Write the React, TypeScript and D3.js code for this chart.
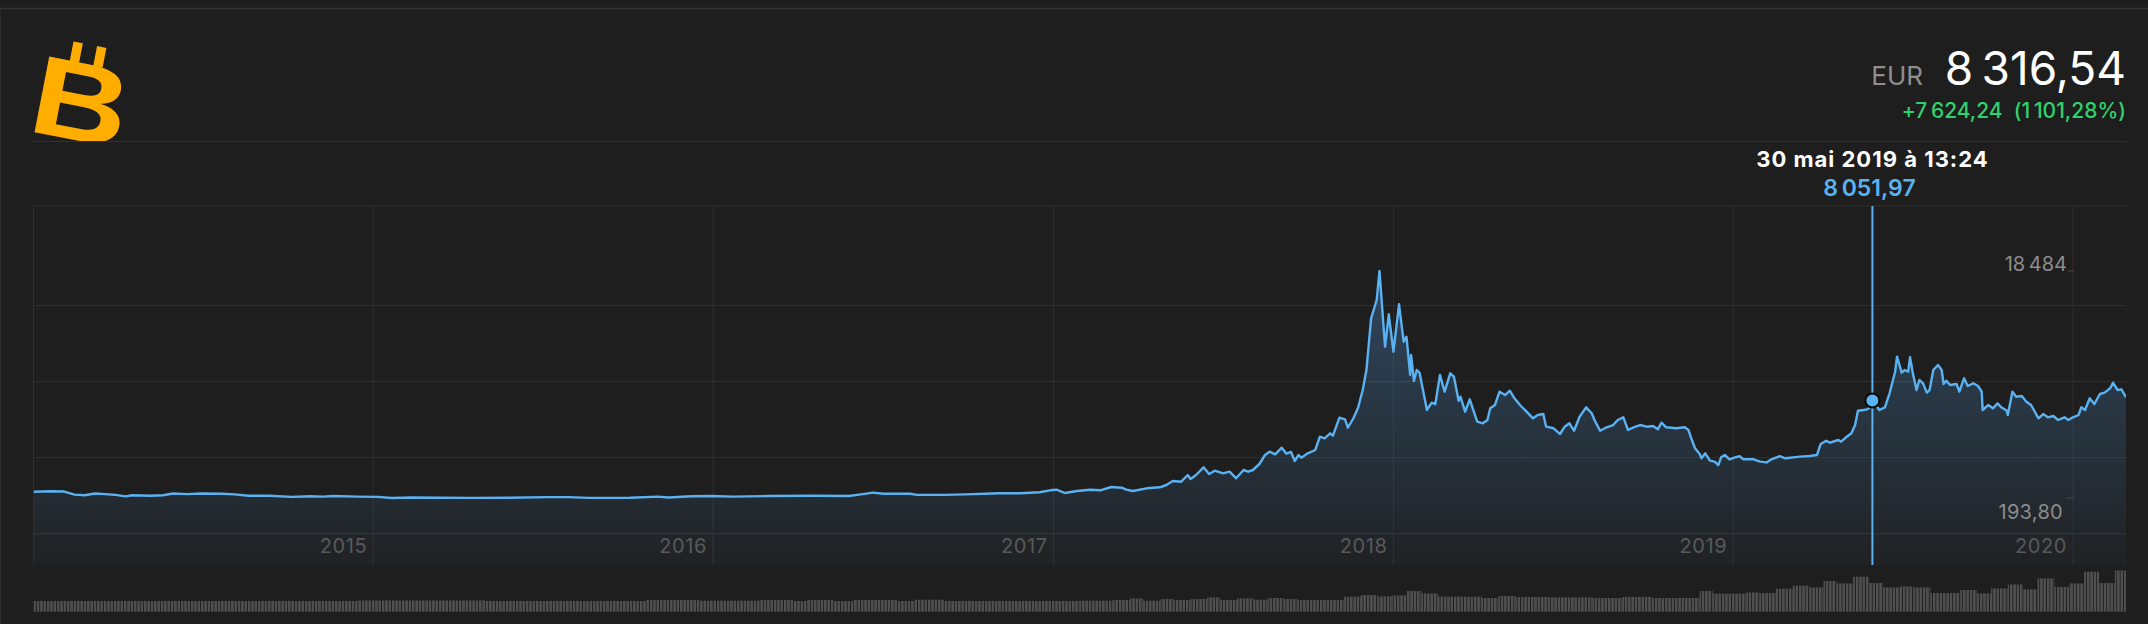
import React from "react";
import * as d3 from "d3";

// ---------- DATA ----------
const currency = "EUR";
const cursorDate = "2019-05-30T13:24";

const priceDates = [
  "2014-01-01","2014-01-19","2014-02-03","2014-02-14","2014-02-25","2014-03-08","2014-03-19","2014-03-30",
  "2014-04-10","2014-04-17","2014-05-06","2014-05-20","2014-05-31","2014-06-15","2014-06-30","2014-07-22",
  "2014-08-05","2014-08-20","2014-09-11","2014-10-06","2014-10-25","2014-11-08","2014-11-19","2014-12-15",
  "2015-01-06","2015-01-21","2015-02-12","2015-03-13","2015-04-19","2015-05-25","2015-07-08","2015-07-30",
  "2015-08-21","2015-10-04","2015-11-03","2015-11-14","2015-12-09","2015-12-31","2016-01-22","2016-02-28",
  "2016-04-19","2016-05-26","2016-06-06","2016-06-21","2016-07-02","2016-07-31","2016-08-07","2016-09-06",
  "2016-09-28","2016-10-27","2016-11-04","2016-11-26","2016-12-17","2016-12-28","2017-01-04","2017-01-13",
  "2017-01-26","2017-02-09","2017-02-20","2017-03-04","2017-03-15","2017-03-20","2017-03-27","2017-04-11",
  "2017-04-25","2017-05-02","2017-05-09","2017-05-18","2017-05-25","2017-05-28","2017-06-03","2017-06-11",
  "2017-06-17","2017-06-23","2017-07-02","2017-07-09","2017-07-16","2017-07-24","2017-07-29","2017-08-03",
  "2017-08-10","2017-08-16","2017-08-21","2017-08-27","2017-09-03","2017-09-08","2017-09-13","2017-09-17",
  "2017-09-21","2017-09-24","2017-10-01","2017-10-09","2017-10-14","2017-10-19","2017-10-25","2017-10-28",
  "2017-11-04","2017-11-10","2017-11-13","2017-11-19","2017-11-24","2017-11-29","2017-12-03","2017-12-08",
  "2017-12-14","2017-12-17","2017-12-23","2017-12-27","2018-01-01","2018-01-07","2018-01-12","2018-01-15",
  "2018-01-19","2018-01-20","2018-01-23","2018-01-26","2018-01-29","2018-02-06","2018-02-11","2018-02-15",
  "2018-02-20","2018-02-25","2018-03-03","2018-03-07","2018-03-12","2018-03-14","2018-03-19","2018-03-24",
  "2018-03-28","2018-04-01","2018-04-07","2018-04-12","2018-04-15","2018-04-20","2018-04-25","2018-05-01",
  "2018-05-06","2018-05-11","2018-05-17","2018-05-24","2018-05-31","2018-06-05","2018-06-11","2018-06-14",
  "2018-06-22","2018-06-29","2018-07-04","2018-07-09","2018-07-14","2018-07-20","2018-07-27","2018-08-02",
  "2018-08-05","2018-08-11","2018-08-18","2018-08-25","2018-08-30","2018-09-05","2018-09-10","2018-09-16",
  "2018-09-23","2018-09-30","2018-10-07","2018-10-12","2018-10-16","2018-10-21","2018-11-01","2018-11-10",
  "2018-11-14","2018-11-17","2018-11-21","2018-11-26","2018-11-28","2018-12-02","2018-12-07","2018-12-12",
  "2018-12-16","2018-12-19","2018-12-23","2018-12-28","2019-01-03","2019-01-08","2019-01-12","2019-01-23",
  "2019-01-30","2019-02-06","2019-02-11","2019-02-20","2019-02-26","2019-03-14","2019-03-24","2019-04-01",
  "2019-04-05","2019-04-11","2019-04-15","2019-04-24","2019-04-27","2019-05-03","2019-05-08","2019-05-12",
  "2019-05-15","2019-05-21","2019-05-25","2019-05-28","2019-05-30T13:24","2019-06-07","2019-06-13","2019-06-18",
  "2019-06-24","2019-06-26","2019-07-01","2019-07-04","2019-07-08","2019-07-10","2019-07-13","2019-07-17",
  "2019-07-20","2019-07-24","2019-07-28","2019-07-31","2019-08-04","2019-08-09","2019-08-13","2019-08-15",
  "2019-08-18","2019-08-22","2019-08-29","2019-09-01","2019-09-06","2019-09-10","2019-09-16","2019-09-21",
  "2019-09-25","2019-09-26","2019-10-02","2019-10-07","2019-10-12","2019-10-16","2019-10-22","2019-10-23",
  "2019-10-28","2019-11-01","2019-11-07","2019-11-12","2019-11-17","2019-11-25","2019-11-30","2019-12-05",
  "2019-12-11","2019-12-16","2019-12-23","2019-12-27","2020-01-01","2020-01-07","2020-01-10","2020-01-14",
  "2020-01-19","2020-01-24","2020-01-30","2020-02-04","2020-02-10","2020-02-13","2020-02-18","2020-02-22",
  "2020-02-27"
];

const priceValues = [
  692.304,736,714,465,420,555,510,442,
  329,420,375,420,555,510,555,533,
  487,375,375,284,329,307,352,307,
  284,193.8,239,216,205,208,262,262,
  200,216,307,239,329,352,307,352,
  375,352,465,623,533,533,442,442,
  487,555,572,575,653,814,863,597,
  758,863,814,1080,1024,863,758,975,
  1056,1241,1563,1507,2047,1725,2047,2667,
  2127,2393,2183,2313,1780,2450,2313,2450,
  2933,3658,3925,3715,4247,3763,3900,3175,
  3658,3440,3795,4061,5133,5004,5407,5220,
  6664,6528,5858,6620,7470,8895,10506,14672,
  16147,18484,12383,14994,11980,15800,12787,13190,
  10104,11715,9620,10506,10300,7284,7872,7767,
  10104,8758,10238,9970,8033,8355,7147,8146,
  7227,6341,6212,6478,7420,7686,8758,8492,
  8840,8227,7686,7147,6615,6881,6960,5939,
  5810,5350,5939,6212,5616,6745,7500,7018,
  6478,5616,5890,6075,6478,6696,5672,5890,
  6075,5939,6000,5729,6260,5890,5810,5890,
  5672,5004,4199,3739,3393,3795,3200,3128,
  2853,3473,3658,3312,3473,3560,3312,3312,
  3128,3060,3312,3560,3393,3525,3578,3658,
  4545,4810,4649,4867,4730,5133,5407,6075,
  7227,7284,7340,7500,8051.97,7284,7500,8630,
  10372,11580,10291,10506,10372,11530,10238,8895,
  9701,9433,8680,8895,10506,10909,10506,9379,
  9647,9298,9379,8758,9836,9218,9433,9218,
  8758,7284,7686,7420,7822,7500,7227,6881,
  8758,8355,8410,7953,7686,6615,6960,6696,
  6800,6478,6696,6478,6696,6881,7500,7284,
  8227,7767,8574,8680,9031,9486,8895,8950,
  8316.54
];

// Volume: start date of each run of equal-height volume bars, and its relative volume
const volumeDates = [
  "2014-01-01","2014-12-15","2015-05-01","2015-10-21","2015-12-18","2016-02-20","2016-03-27","2016-04-11",
  "2016-05-10","2016-05-31","2016-07-17","2016-08-04","2016-09-05","2017-01-29","2017-03-06","2017-03-24",
  "2017-04-07","2017-04-26","2017-05-10","2017-05-28","2017-06-15","2017-06-29","2017-07-17","2017-08-04",
  "2017-08-19","2017-09-05","2017-09-20","2017-11-09","2017-11-27","2017-12-15","2017-12-30","2018-01-15",
  "2018-01-31","2018-02-18","2018-04-06","2018-04-24","2018-05-12","2018-06-17","2018-08-03","2018-09-04",
  "2018-10-06","2018-11-26","2018-12-10","2019-01-15","2019-01-29","2019-02-16","2019-03-06","2019-03-24",
  "2019-04-08","2019-04-22","2019-05-10","2019-05-27","2019-06-11","2019-06-29","2019-07-14","2019-08-01",
  "2019-09-02","2019-09-20","2019-10-05","2019-10-23","2019-11-08","2019-11-24","2019-12-12","2019-12-28",
  "2020-01-13","2020-01-29","2020-02-15"
];
const volumeValues = [
  10.7,11.3,10.7,11.7,11,11.7,10.7,11.7,
  10.7,11.7,10.7,12,10.7,11,11.7,13.3,
  11,12.7,11.7,12.7,14.3,11.7,13.3,12,
  13.7,12.7,11.7,15,16.7,15.3,16.3,20.7,
  18.3,15,13.7,15.7,14.7,14.3,13.7,14.7,
  13.7,20.7,18,19.3,18.7,23,26,24.3,
  30.7,28.3,35,28.7,24.3,25.3,24.3,18.7,
  21.7,18.3,23.3,27.3,22.3,33.3,24.7,28.3,
  40,28.7,41.3
];

// ---------- LAYOUT ----------
const W = 2148;
const H = 624;
const PLOT_LEFT = 33.5;
const PLOT_RIGHT = 2126;
const PLOT_TOP = 206;
const PLOT_BOTTOM = 565;
const VALUE_TOP = 271;
const VALUE_BOTTOM = 498;
const GRID_STEP = 76;
const GRID_COUNT = 4;
const VOL_BOTTOM = 611.7;
const VOL_MAX_H = 41.3;
const LABEL_RIGHT = 2066;
const TICK_RIGHT = 2074.5;
const FONT = "Inter, 'Noto Sans', 'DejaVu Sans', sans-serif";

const fr = d3.formatLocale({ decimal: ",", thousands: "\u202f", grouping: [3], currency: ["", "\u00a0€"] });
const frTime = d3.timeFormatLocale({
  dateTime: "%A %e %B %Y à %X",
  date: "%d/%m/%Y",
  time: "%H:%M:%S",
  periods: ["AM", "PM"],
  days: ["dimanche", "lundi", "mardi", "mercredi", "jeudi", "vendredi", "samedi"],
  shortDays: ["dim.", "lun.", "mar.", "mer.", "jeu.", "ven.", "sam."],
  months: ["janvier", "février", "mars", "avril", "mai", "juin", "juillet", "août", "septembre", "octobre", "novembre", "décembre"],
  shortMonths: ["janv.", "févr.", "mars", "avr.", "mai", "juin", "juil.", "août", "sept.", "oct.", "nov.", "déc."],
});
const fmtPrice = (v: number) => (v >= 10000 ? fr.format(",.0f")(v) : fr.format(",.2f")(v));

export default function App() {
  const data = priceDates.map((d, i) => ({ date: d3.isoParse(d) as Date, value: priceValues[i] }));
  const [d0, d1] = d3.extent(data, (d) => d.date) as [Date, Date];
  const x = d3.scaleTime().domain([d0, d1]).range([PLOT_LEFT, PLOT_RIGHT]);
  const minV = d3.min(priceValues) as number;
  const maxV = d3.max(priceValues) as number;
  const y = d3.scaleLinear().domain([minV, maxV]).range([VALUE_BOTTOM, VALUE_TOP]);

  const line = d3.line<{ date: Date; value: number }>().x((d) => x(d.date)).y((d) => y(d.value));
  const area = d3
    .area<{ date: Date; value: number }>()
    .x((d) => x(d.date))
    .y0(PLOT_BOTTOM)
    .y1((d) => y(d.value));

  const years = x.ticks(d3.timeYear.every(1)).filter((t) => +t > +d0);

  const vol = volumeDates.map((d, i) => ({ date: d3.isoParse(d) as Date, value: volumeValues[i] }));
  const vH = d3.scaleLinear().domain([0, d3.max(volumeValues) as number]).range([0, VOL_MAX_H]);

  const first = priceValues[0];
  const last = priceValues[priceValues.length - 1];
  const change = last - first;
  const pct = (change / first) * 100;

  const cur = data.find((d) => +d.date === +(d3.isoParse(cursorDate) as Date))!;
  const cx = x(cur.date);
  const cy = y(cur.value);
  const dateLabel = frTime.format("%-d %B %Y à %H:%M")(cur.date);

  const gridYs = d3.range(GRID_COUNT).map((i) => PLOT_BOTTOM - 31.5 - i * GRID_STEP);

  return (
    <svg
      width={W}
      height={H}
      style={{ position: "absolute", left: 0, top: 0, display: "block" }}
      fontFamily={FONT}
    >
      <defs>
        <linearGradient id="areaGrad" gradientUnits="userSpaceOnUse" x1="0" y1={VALUE_TOP} x2="0" y2={PLOT_BOTTOM}>
          <stop offset="0" stopColor="#56a0e6" stopOpacity="0.32" />
          <stop offset="1" stopColor="#56a0e6" stopOpacity="0.03" />
        </linearGradient>
        <linearGradient id="logoGrad" gradientUnits="userSpaceOnUse" x1="0" y1="42" x2="0" y2="142">
          <stop offset="0" stopColor="#ffae00" />
          <stop offset="0.55" stopColor="#fb8f10" />
          <stop offset="1" stopColor="#f2661f" />
        </linearGradient>
        <pattern id="stripes" patternUnits="userSpaceOnUse" x={PLOT_LEFT} y="0" width="3.35" height="20">
          <rect x="0" y="0" width="2.45" height="20" fill="#505050" />
        </pattern>
        <clipPath id="logoClip">
          <rect x="0" y="0" width="300" height="141" />
        </clipPath>
        <clipPath id="plotClip">
          <rect x={PLOT_LEFT} y={PLOT_TOP} width={PLOT_RIGHT - PLOT_LEFT} height={PLOT_BOTTOM - PLOT_TOP} />
        </clipPath>
      </defs>

      <rect x="0" y="0" width={W} height={H} fill="#1e1e1e" />
      <line x1="0" x2={W} y1="8.5" y2="8.5" stroke="#343434" strokeWidth="1.5" />
      <line x1="0.5" x2="0.5" y1="9" y2={H} stroke="#2a2a2a" strokeWidth="1" />

      {/* Logo */}
      <g clipPath="url(#logoClip)">
        <g transform="translate(81,100) rotate(11)">
          <rect x="-18.5" y="-56" width="9.5" height="20" fill="url(#logoGrad)" />
          <rect x="5.5" y="-56" width="9.5" height="20" fill="url(#logoGrad)" />
          <g transform="scale(1.2,1)">
            <text x="0" y="40.5" textAnchor="middle" fontSize="112" fontWeight="900" fill="url(#logoGrad)"
              fontFamily="'Liberation Sans', Arial, sans-serif">B</text>
          </g>
        </g>
      </g>

      {/* Header */}
      <text x={PLOT_RIGHT} y="85" textAnchor="end" fontSize="46" letterSpacing="1.4" fill="#ffffff">{fmtPrice(last)}</text>
      <text x="1923" y="85" textAnchor="end" fontSize="26" fill="#8e8e8e">{currency}</text>
      <text x={PLOT_RIGHT} y="118" textAnchor="end" fontSize="21" fontWeight="500" letterSpacing="0.9" fill="#2fd26d" xmlSpace="preserve">
        {`${fr.format("+,.2f")(change)}  (${fr.format(",.2f")(pct)}%)`}
      </text>
      <line x1={PLOT_LEFT} x2={PLOT_RIGHT} y1="141.5" y2="141.5" stroke="#303030" strokeWidth="1" />

      {/* Grid */}
      <line x1={PLOT_LEFT} x2={PLOT_RIGHT} y1={PLOT_TOP} y2={PLOT_TOP} stroke="#2e2e2e" strokeWidth="1" />
      {gridYs.map((gy, i) => (
        <line key={i} x1={PLOT_LEFT} x2={PLOT_RIGHT} y1={gy} y2={gy} stroke="#2e2e2e" strokeWidth="1" />
      ))}
      <line x1={PLOT_LEFT} x2={PLOT_LEFT} y1={PLOT_TOP} y2={PLOT_BOTTOM} stroke="#2e2e2e" strokeWidth="1" />
      {years.map((t, i) => (
        <line key={i} x1={x(t)} x2={x(t)} y1={PLOT_TOP} y2={PLOT_BOTTOM} stroke="#2e2e2e" strokeWidth="1" />
      ))}

      {/* Area + line */}
      <g clipPath="url(#plotClip)">
        <path d={area(data) as string} fill="url(#areaGrad)" />
        <path d={line(data) as string} fill="none" stroke="#5ab2f2" strokeWidth="2.4" strokeLinejoin="round" />
      </g>

      {/* Year labels */}
      {years.map((t, i) => (
        <text key={i} x={x(t) - 6} y="553" textAnchor="end" fontSize="20" letterSpacing="0.6" fill="#595959">
          {d3.timeFormat("%Y")(t)}
        </text>
      ))}

      {/* Max / min labels */}
      <text x={LABEL_RIGHT + 1} y={y(maxV) - 0.5} textAnchor="end" fontSize="20" letterSpacing="0.5" fill="#8c8c8c">{fmtPrice(maxV)}</text>
      <line x1={LABEL_RIGHT + 2} x2={TICK_RIGHT} y1={y(maxV)} y2={y(maxV)} stroke="#4a4a4a" strokeWidth="1" />
      <text x={LABEL_RIGHT - 3} y={y(minV) + 20.5} textAnchor="end" fontSize="20" letterSpacing="0.3" fill="#8c8c8c">{fmtPrice(minV)}</text>
      <line x1={LABEL_RIGHT} x2={TICK_RIGHT} y1={y(minV)} y2={y(minV)} stroke="#4a4a4a" strokeWidth="1" />

      {/* Volume */}
      {vol.map((v, i) => {
        const xa = x(v.date);
        const xb = i < vol.length - 1 ? x(vol[i + 1].date) : PLOT_RIGHT;
        const h = vH(v.value);
        return <rect key={i} x={xa} y={VOL_BOTTOM - h} width={xb - xa} height={h} fill="url(#stripes)" />;
      })}

      {/* Cursor */}
      <line x1={cx} x2={cx} y1={PLOT_TOP} y2={PLOT_BOTTOM} stroke="#5ab2f2" strokeWidth="2" />
      <circle cx={cx} cy={cy} r="7" fill="#5ab2f2" stroke="#0a0a0a" strokeWidth="2" />
      <text x={cx} y="166.7" textAnchor="middle" fontSize="22" fontWeight="700" letterSpacing="1" fill="#ffffff">{dateLabel}</text>
      <text x={cx - 3} y="196" textAnchor="middle" fontSize="23" fontWeight="600" letterSpacing="1.8" fill="#5ab2f2">{fmtPrice(cur.value)}</text>
    </svg>
  );
}
